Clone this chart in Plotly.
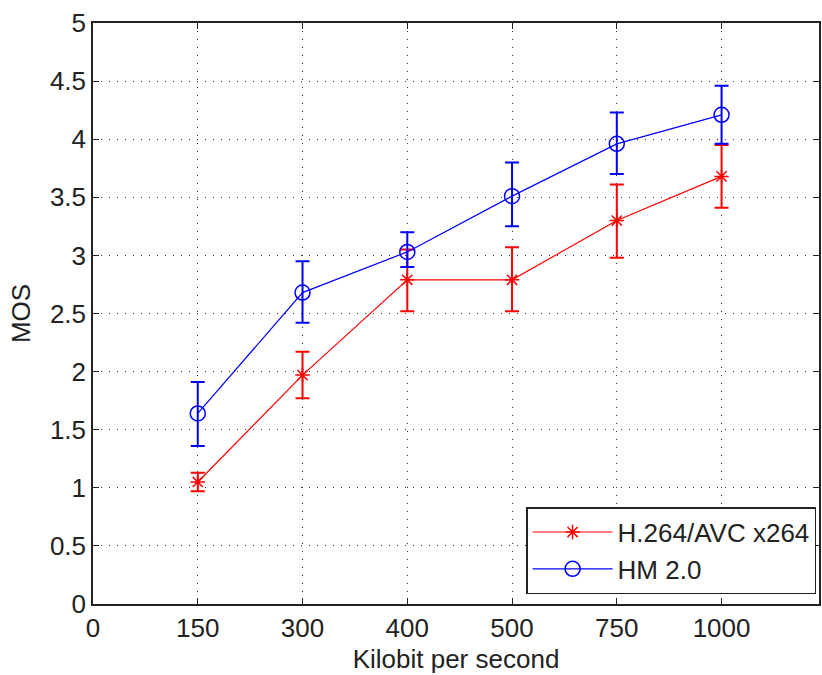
import plotly.graph_objects as go

# Data
tick_labels = ["0", "150", "300", "400", "500", "750", "1000"]
bitrates = ["150", "300", "400", "500", "750", "1000"]

h264_mos = [1.05, 1.97, 2.79, 2.79, 3.30, 3.68]
h264_low = [0.97, 1.77, 2.52, 2.52, 2.98, 3.41]
h264_high = [1.13, 2.17, 3.05, 3.07, 3.61, 3.95]

hm_mos = [1.64, 2.68, 3.03, 3.51, 3.96, 4.21]
hm_low = [1.36, 2.42, 2.90, 3.25, 3.70, 3.96]
hm_high = [1.91, 2.95, 3.20, 3.80, 4.23, 4.46]

y_ticks = [0, 0.5, 1, 1.5, 2, 2.5, 3, 3.5, 4, 4.5, 5]

FONT = "Liberation Sans, Arial, sans-serif"


def err(mean, low, high):
    return (
        [h - m for m, h in zip(mean, high)],
        [m - l for m, l in zip(mean, low)],
    )


fig = go.Figure()

for name, mean, low, high, color, symbol, size in [
    ("H.264/AVC x264", h264_mos, h264_low, h264_high, "#ff0000", "asterisk-open", 12),
    ("HM 2.0", hm_mos, hm_low, hm_high, "#0000ff", "circle-open", 15),
]:
    plus, minus = err(mean, low, high)
    fig.add_trace(
        go.Scatter(
            x=bitrates,
            y=mean,
            name=name,
            mode="lines+markers",
            line=dict(color=color, width=1.2),
            marker=dict(symbol=symbol, size=size, color=color, line=dict(color=color, width=1.5)),
            error_y=dict(
                type="data",
                symmetric=False,
                array=plus,
                arrayminus=minus,
                color=color,
                thickness=2,
                width=7,
            ),
        )
    )

fig.update_layout(
    width=822,
    height=675,
    margin=dict(l=93, r=1, t=23, b=71),
    paper_bgcolor="white",
    plot_bgcolor="white",
    font=dict(family=FONT, size=26, color="#222222"),
    showlegend=True,
    legend=dict(
        x=0.996,
        y=0.017,
        xanchor="right",
        yanchor="bottom",
        bgcolor="white",
        bordercolor="#222222",
        borderwidth=1.5,
        font=dict(family=FONT, size=26, color="#222222"),
        itemwidth=80,
        tracegroupgap=0,
    ),
)

fig.update_xaxes(
    type="category",
    categoryorder="array",
    categoryarray=tick_labels,
    tickvals=tick_labels,
    range=[0, 6.93],
    showline=True,
    linecolor="#222222",
    linewidth=1.5,
    mirror="ticks",
    ticks="inside",
    ticklen=6,
    tickcolor="#222222",
    showgrid=True,
    gridcolor="#333333",
    gridwidth=1.3,
    griddash="1px,7px",
    zeroline=False,
    title=dict(text="Kilobit per second", font=dict(size=26), standoff=8),
    tickfont=dict(size=26),
)

fig.update_yaxes(
    range=[0, 5],
    tickvals=y_ticks,
    ticktext=[f"{v:g}" for v in y_ticks],
    showline=True,
    linecolor="#222222",
    linewidth=1.5,
    mirror="ticks",
    ticks="inside",
    ticklen=6,
    tickcolor="#222222",
    showgrid=True,
    gridcolor="#333333",
    gridwidth=1.3,
    griddash="1px,7px",
    zeroline=False,
    title=dict(text="MOS", font=dict(size=26), standoff=12),
    tickfont=dict(size=26),
)

fig.write_html("out.html")
